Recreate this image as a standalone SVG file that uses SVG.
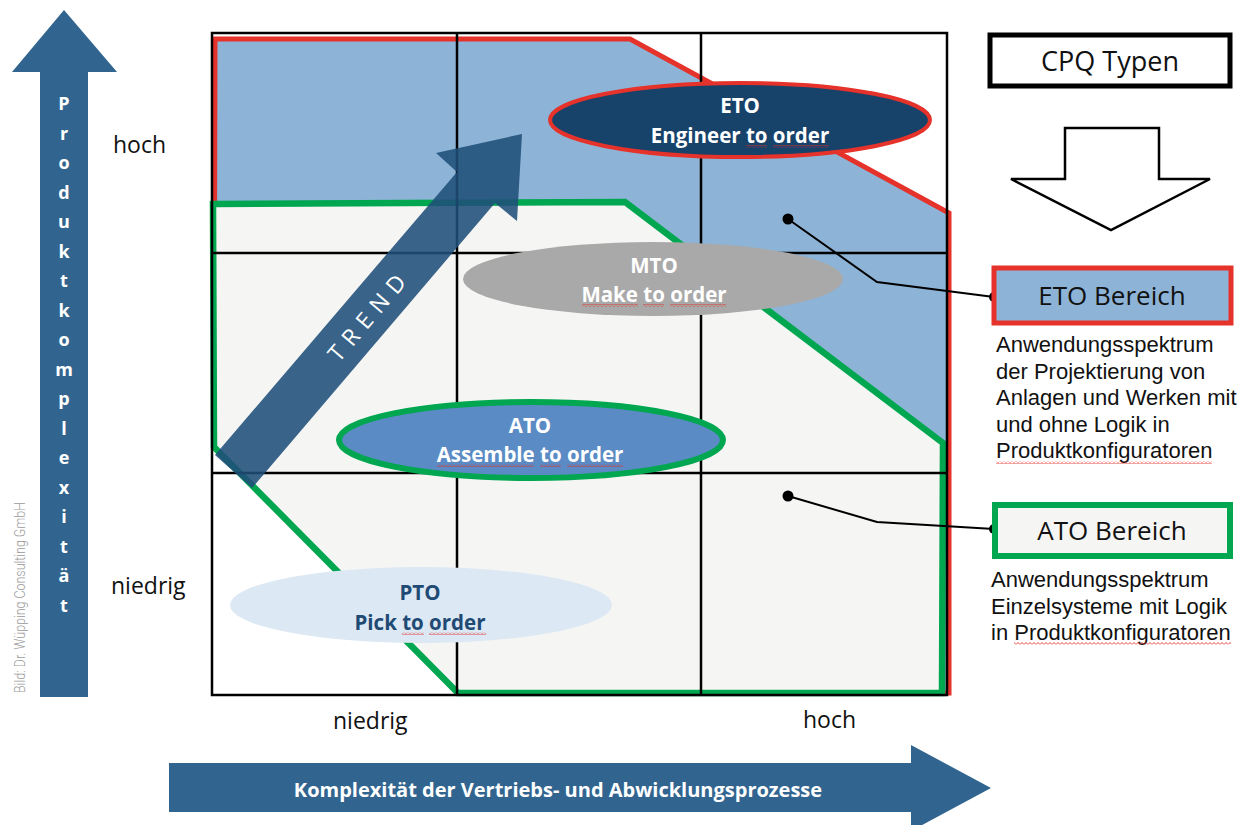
<svg xmlns="http://www.w3.org/2000/svg" width="1256" height="825" viewBox="0 0 1256 825">
<defs>
<pattern id="sq" width="4" height="3" patternUnits="userSpaceOnUse">
<path d="M0,2.5 L2,0.5 L4,2.5" fill="none" stroke="#e0302a" stroke-width="0.9"/>
</pattern>
<style>
.cal{font-family:"Open Sans",Lato,"Liberation Sans",sans-serif}
.lbl{font-family:"Open Sans",Lato,"Liberation Sans",sans-serif;font-size:23px;fill:#111}
.el{font-family:"Open Sans",Lato,"Liberation Sans",sans-serif;font-size:20.5px;font-weight:bold;fill:#fff;text-anchor:middle}
.desc{font-family:"Liberation Sans",Arial,sans-serif;font-size:22px;fill:#111}
.box{font-family:"Open Sans",Lato,"Liberation Sans",sans-serif;font-size:26px;fill:#111;text-anchor:middle}
.grid{fill:none;stroke:#000;stroke-width:2.5}
.axis{fill:#31658f}
.con{fill:none;stroke:#000;stroke-width:2}
.sq{fill:url(#sq)}
</style>
</defs>
<rect width="1256" height="825" fill="#fff"/>

<g id="y-axis">
<polygon class="axis" points="40,697 40,72 12,72 64,10 117,72 88,72 88,697"/>
<text class="cal" font-size="18" font-weight="bold" fill="#fff" text-anchor="middle">
<tspan x="64" y="110">P</tspan><tspan x="64" y="139.5">r</tspan><tspan x="64" y="169">o</tspan><tspan x="64" y="198.5">d</tspan><tspan x="64" y="228">u</tspan><tspan x="64" y="257.5">k</tspan><tspan x="64" y="287">t</tspan><tspan x="64" y="316.5">k</tspan><tspan x="64" y="346">o</tspan><tspan x="64" y="375.5">m</tspan><tspan x="64" y="405">p</tspan><tspan x="64" y="434.5">l</tspan><tspan x="64" y="464">e</tspan><tspan x="64" y="493.5">x</tspan><tspan x="64" y="523">i</tspan><tspan x="64" y="552.5">t</tspan><tspan x="64" y="582">ä</tspan><tspan x="64" y="611.5">t</tspan>
</text>
<text class="lbl" x="113" y="153">hoch</text>
<text class="lbl" x="111" y="594">niedrig</text>
</g>

<text id="credit" transform="translate(25,693) rotate(-90)" font-family="Roboto,'Liberation Sans',sans-serif" font-weight="300" font-size="15" fill="#9a9a9a" textLength="191" lengthAdjust="spacingAndGlyphs">Bild: Dr. Wüpping Consulting GmbH</text>

<g id="x-axis">
<polygon class="axis" points="169,763 911,763 911,745 991,788 911,831 911,812 169,812"/>
<text class="cal" x="558" y="797" font-size="20" font-weight="bold" fill="#fff" text-anchor="middle">Komplexität der Vertriebs- und Abwicklungsprozesse</text>
<text class="lbl" x="333" y="729">niedrig</text>
<text class="lbl" x="803" y="728">hoch</text>
</g>

<g id="eto-area">
<polygon points="215,39 630,39 949,213 949,693 458,693 214,447" fill="#8db4d7" stroke="#e5322a" stroke-width="5" stroke-linejoin="miter"/>
</g>
<g id="ato-area">
<polygon points="213,204 625,202 943,443 942,693 458,693 214,447" fill="#f5f5f3" stroke="#00a650" stroke-width="6.5" stroke-linejoin="miter"/>
</g>

<g id="grid">
<rect class="grid" x="212" y="33" width="735" height="662"/>
<line class="grid" x1="457" y1="33" x2="457" y2="695"/>
<line class="grid" x1="701" y1="33" x2="701" y2="695"/>
<line class="grid" x1="212" y1="253" x2="947" y2="253"/>
<line class="grid" x1="212" y1="473" x2="947" y2="473"/>
</g>

<g id="trend">
<polygon points="215,455 457,172 436,153 522,134 517,221 495,203 252,488" fill="#1f4e79" fill-opacity="0.88"/>
<text transform="translate(367,318) rotate(-49.5)" x="4" y="8" class="cal" font-size="23" fill="#fff" text-anchor="middle" letter-spacing="8">TREND</text>
</g>

<g id="eto">
<ellipse cx="740" cy="120" rx="190" ry="37" fill="#17426a" stroke="#e5322a" stroke-width="4"/>
<text class="el" x="740" y="113">ETO</text>
<text class="el" x="740" y="143">Engineer to order</text>
<rect class="sq" x="746" y="145" width="21" height="3"/>
<rect class="sq" x="773" y="145" width="56" height="3"/>
</g>

<g id="mto">
<ellipse cx="653" cy="279" rx="190" ry="37" fill="#a9a9a9"/>
<text class="el" x="654" y="273">MTO</text>
<text class="el" x="654" y="302">Make to order</text>
<rect class="sq" x="582" y="304" width="56" height="3"/>
<rect class="sq" x="643" y="304" width="21" height="3"/>
<rect class="sq" x="670" y="304" width="56" height="3"/>
</g>

<g id="ato">
<ellipse cx="531" cy="440" rx="192" ry="38" fill="#5a8bc4" stroke="#00a650" stroke-width="6"/>
<text class="el" x="530" y="433">ATO</text>
<text class="el" x="530" y="462">Assemble to order</text>
<rect class="sq" x="437" y="464" width="97" height="3"/>
<rect class="sq" x="540" y="464" width="21" height="3"/>
<rect class="sq" x="567" y="464" width="56" height="3"/>
</g>

<g id="pto">
<ellipse cx="421" cy="605" rx="191" ry="38" fill="#dce8f3"/>
<text class="el" x="420" y="600" style="fill:#1f4a74">PTO</text>
<text class="el" x="420" y="630" style="fill:#1f4a74">Pick to order</text>
<rect class="sq" x="402" y="632" width="22" height="3"/>
<rect class="sq" x="429" y="632" width="57" height="3"/>
</g>

<g id="connectors">
<polyline class="con" points="788,219 877,282 994,297"/>
<circle cx="788" cy="219" r="5.5" fill="#000"/>
<circle cx="994" cy="297" r="5" fill="#000"/>
<polyline class="con" points="788,496 877,522 994,529"/>
<circle cx="788" cy="496" r="5.5" fill="#000"/>
<circle cx="994" cy="529" r="5" fill="#000"/>
</g>

<g id="cpq-typen">
<rect x="990" y="35" width="240" height="51" fill="#fff" stroke="#000" stroke-width="5"/>
<text class="box" x="1110" y="71" style="font-size:27px">CPQ Typen</text>
</g>

<g id="down-arrow">
<polygon points="1065,128 1159,128 1159,179 1210,179 1111,230 1011,179 1065,179" fill="#fff" stroke="#000" stroke-width="2.5" stroke-linejoin="miter"/>
</g>

<g id="eto-bereich">
<rect x="994" y="268" width="237" height="55" fill="#8db4d7" stroke="#e5322a" stroke-width="5"/>
<text class="box" x="1112" y="305">ETO Bereich</text>
<text class="desc"><tspan x="996" y="352">Anwendungsspektrum</tspan><tspan x="996" y="378.5">der Projektierung von</tspan><tspan x="996" y="405">Anlagen und Werken mit</tspan><tspan x="996" y="431.5">und ohne Logik in</tspan><tspan x="996" y="458">Produktkonfiguratoren</tspan></text>
<rect class="sq" x="996" y="461" width="216" height="3"/>
</g>

<g id="ato-bereich">
<rect x="995" y="505" width="235" height="51" fill="#f5f5f3" stroke="#00a650" stroke-width="6"/>
<text class="box" x="1112" y="540">ATO Bereich</text>
<text class="desc"><tspan x="991" y="587">Anwendungsspektrum</tspan><tspan x="991" y="613.5">Einzelsysteme mit Logik</tspan><tspan x="991" y="640">in Produktkonfiguratoren</tspan></text>
<rect class="sq" x="1014" y="642" width="217" height="3"/>
</g>
</svg>
